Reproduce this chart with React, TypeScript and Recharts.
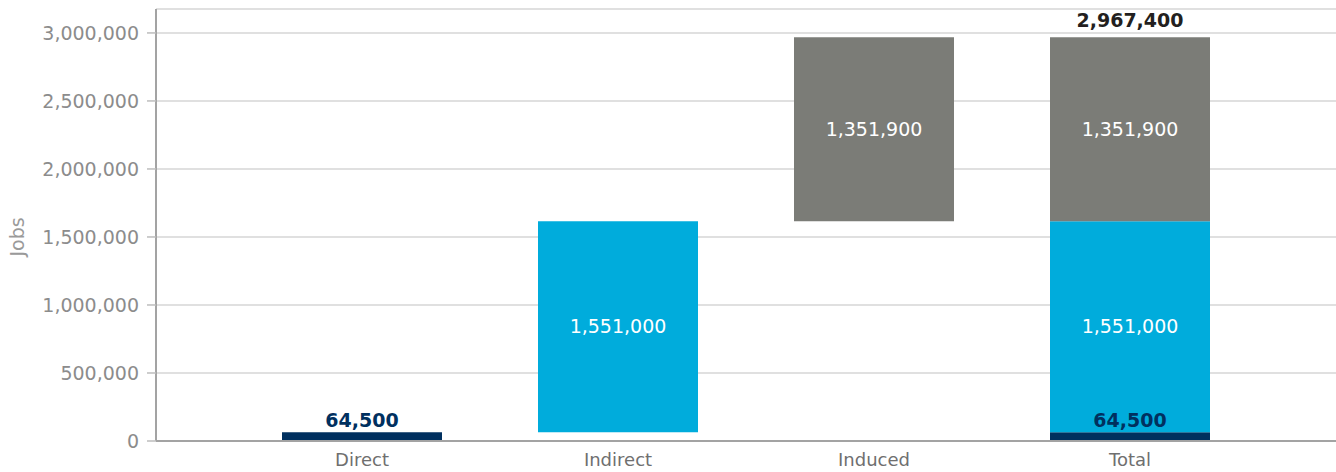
import { Bar, BarChart, CartesianGrid, Label, LabelList, XAxis, YAxis } from 'recharts';

// page has an 8px body margin by default; the chart fills the window
document.body.style.margin = '0';

const categories = ['Direct', 'Indirect', 'Induced', 'Total'];
const direct = [64500, null, null, 64500];
const indirect = [null, 1551000, null, 1551000];
const induced = [null, null, 1351900, 1351900];
const totals = [null, null, null, 2967400];
const yTicks = [0, 500000, 1000000, 1500000, 2000000, 2500000, 3000000];

const NAVY = '#00305f';
const CYAN = '#00acdc';
const GREY = '#7b7c77';
const FONT = '"DejaVu Sans", sans-serif';

// invisible floor for the waterfall steps: each step starts where the previous ended
const base = categories.map((_, i) => {
  if (i === categories.length - 1) return 0;
  let sum = 0;
  for (let j = 0; j < i; j++) sum += (direct[j] ?? 0) + (indirect[j] ?? 0) + (induced[j] ?? 0);
  return sum;
});

const data = categories.map((name, i) => ({
  name,
  base: base[i],
  direct: direct[i],
  indirect: indirect[i],
  induced: induced[i],
  total: totals[i],
}));

const fmt = (v: any) => (v == null ? '' : Number(v).toLocaleString('en-US'));

export default function App() {
  return (
    <BarChart
      width={1336}
      height={472}
      data={data}
      margin={{ top: 9, right: 0, left: 0, bottom: 0 }}
      barSize={160}
    >
      <CartesianGrid vertical={false} stroke="#d6d6d6" strokeWidth={1.5} />
      <XAxis
        dataKey="name"
        padding={{ left: 78, right: 78 }}
        height={31}
        axisLine={{ stroke: '#a3a3a3', strokeWidth: 2 }}
        tickLine={false}
        tickSize={6}
        tickMargin={6}
        tick={{ fontSize: 18, fill: '#6f6f6f', fontFamily: FONT }}
      />
      <YAxis
        width={156}
        domain={[0, 3176000]}
        ticks={yTicks}
        interval={0}
        tickFormatter={fmt}
        axisLine={{ stroke: '#a3a3a3', strokeWidth: 2 }}
        tickLine={{ stroke: '#bdbdbd', strokeWidth: 1.5 }}
        tickSize={9}
        tickMargin={8}
        tick={{ fontSize: 19, fill: '#8c8c8c', fontFamily: FONT }}
      >
        <Label
          content={({ viewBox }: any) => (
            <text
              transform={`translate(${viewBox.x + 17},${viewBox.y + viewBox.height / 2 + 12}) rotate(-90)`}
              textAnchor="middle"
              dominantBaseline="central"
              fontSize={19}
              fill="#9a9a9a"
              fontFamily={FONT}
            >
              Jobs
            </text>
          )}
        />
      </YAxis>
      <Bar dataKey="base" stackId="w" fill="transparent" isAnimationActive={false} />
      <Bar dataKey="direct" stackId="w" fill={NAVY} isAnimationActive={false}>
        <LabelList
          dataKey="direct"
          position="top"
          offset={5}
          formatter={fmt}
          fill={NAVY}
          fontSize={19}
          fontWeight="bold"
          fontFamily={FONT}
        />
      </Bar>
      <Bar dataKey="indirect" stackId="w" fill={CYAN} isAnimationActive={false}>
        <LabelList
          dataKey="indirect"
          position="center"
          formatter={fmt}
          fill="#ffffff"
          fontSize={19}
          fontFamily={FONT}
        />
      </Bar>
      <Bar dataKey="induced" stackId="w" fill={GREY} isAnimationActive={false}>
        <LabelList
          dataKey="induced"
          position="center"
          formatter={fmt}
          fill="#ffffff"
          fontSize={19}
          fontFamily={FONT}
        />
        <LabelList
          dataKey="total"
          position="top"
          offset={10}
          formatter={fmt}
          fill="#231f20"
          fontSize={19}
          fontWeight="bold"
          fontFamily={FONT}
        />
      </Bar>
    </BarChart>
  );
}
